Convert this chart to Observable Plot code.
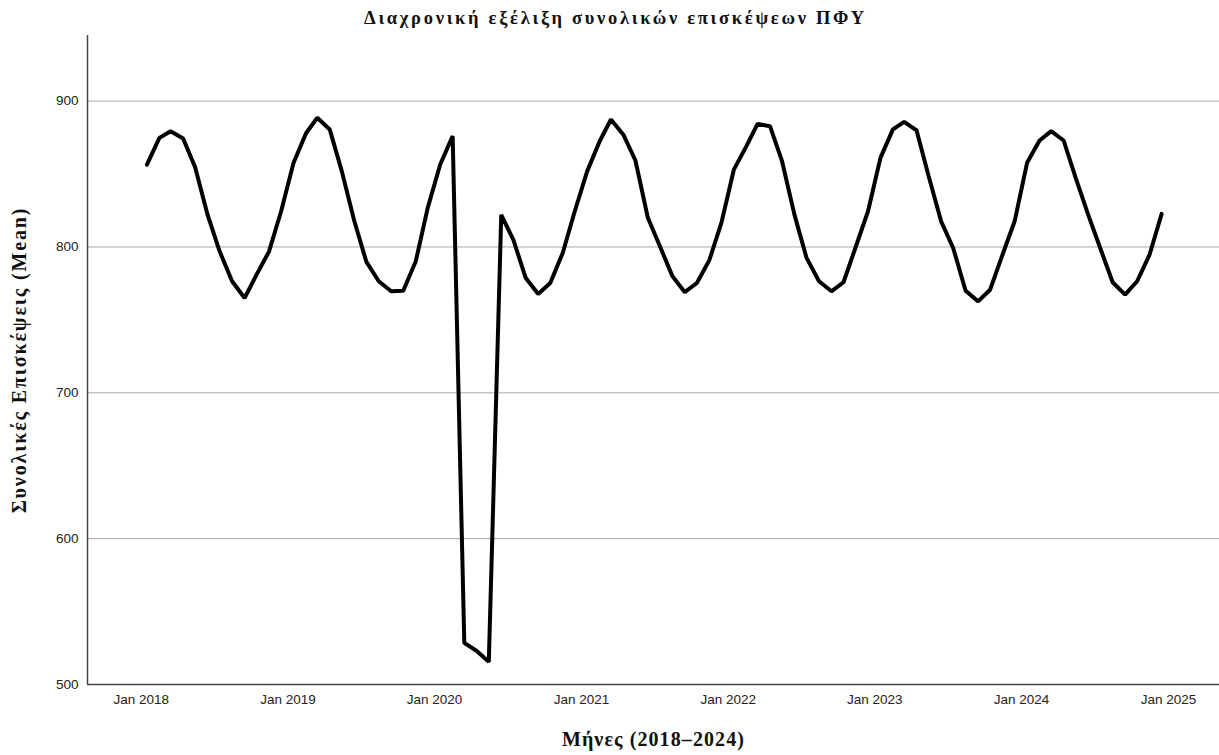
<!DOCTYPE html>
<html>
<head>
<meta charset="utf-8">
<script src="https://cdn.jsdelivr.net/npm/d3@7"></script>
<script src="https://cdn.jsdelivr.net/npm/@observablehq/plot@0.6"></script>
<style>
  html, body { margin: 0; padding: 0; background: #fff; }
  #wrap { width: 1219px; }
  #title { height: 35px; line-height: 36px; text-align: center; padding-left: 12px; box-sizing: border-box; font-family: "Liberation Serif", "DejaVu Serif", serif; font-weight: bold; font-size: 18.5px; letter-spacing: 2.7px; color: #111; white-space: nowrap; }
</style>
</head>
<body>
<div id="wrap">
  <div id="title"></div>
  <div id="chart"></div>
</div>
<script>
const titleText = "Διαχρονική εξέλιξη συνολικών επισκέψεων ΠΦΥ";
const yLabel = "Συνολικές Επισκέψεις (Mean)";
const xLabel = "Μήνες (2018–2024)";

const years = [2018, 2019, 2020, 2021, 2022, 2023, 2024];
const v2018 = [856.5, 874.8, 879.4, 874.4, 854.7, 822.0, 797.0, 776.5, 765.0, 781.0, 797.0, 824.5];
const v2019 = [857.7, 878.0, 888.6, 880.6, 852.0, 818.0, 790.0, 776.5, 769.6, 770.0, 790.0, 826.8];
const v2020 = [856.5, 876.0, 528.5, 523.0, 515.5, 822.0, 805.0, 778.7, 767.8, 775.3, 795.9, 824.5];
const v2021 = [852.0, 872.5, 887.4, 877.0, 859.3, 820.0, 800.5, 780.0, 769.0, 775.3, 791.0, 816.5];
const v2022 = [853.0, 869.0, 884.4, 882.8, 858.8, 822.0, 792.5, 776.5, 769.6, 775.8, 800.5, 824.5];
const v2023 = [861.1, 880.6, 885.8, 879.9, 848.5, 817.6, 799.3, 770.0, 762.7, 770.7, 794.8, 817.6];
const v2024 = [857.7, 873.0, 879.4, 873.0, 847.4, 822.2, 799.3, 775.8, 767.3, 776.5, 794.8, 822.7];
const yearValues = [v2018, v2019, v2020, v2021, v2022, v2023, v2024];

const yTicks = [500, 600, 700, 800, 900];
const gridValues = [600, 700, 800, 900];
const xTickYears = [2018, 2019, 2020, 2021, 2022, 2023, 2024, 2025];

const data = [];
years.forEach((yr, i) => {
  yearValues[i].forEach((v, m) => {
    data.push({date: new Date(Date.UTC(yr, m, 15)), value: v});
  });
});

const xTicks = xTickYears.map(y => new Date(Date.UTC(y, 0, 1)));
const xDomain = [new Date(Date.UTC(2017, 7, 20)), new Date(Date.UTC(2025, 4, 8))];
const yDomain = [500, 945];
const fmt = d3.utcFormat("%b %Y");

document.getElementById("title").textContent = titleText;

const chart = Plot.plot({
  width: 1219,
  height: 720,
  marginLeft: 87,
  marginRight: 0,
  marginTop: 0,
  marginBottom: 71,
  style: {fontFamily: "'Liberation Sans', Arial, sans-serif", fontSize: "13.5px", color: "#222", background: "#fff"},
  x: {type: "utc", domain: xDomain},
  y: {domain: yDomain},
  marks: [
    Plot.gridY(gridValues, {stroke: "#a8a8a8", strokeOpacity: 1, strokeWidth: 1}),
    Plot.axisX(xTicks, {tickSize: 0, tickPadding: 10, tickFormat: fmt, label: null, fontSize: 13.5}),
    Plot.axisY(yTicks, {tickSize: 0, tickPadding: 9, label: null, fontSize: 13.5}),
    Plot.ruleY([yDomain[0]], {stroke: "#444", strokeWidth: 1.5}),
    Plot.ruleX([xDomain[0]], {stroke: "#444", strokeWidth: 1.5}),
    Plot.line(data, {x: "date", y: "value", stroke: "#000", strokeWidth: 4, strokeLinejoin: "miter"}),
    Plot.text([yLabel], {text: d => d, frameAnchor: "left", textAnchor: "middle", dx: -68, rotate: -90, fontFamily: "'Liberation Serif', serif", fontWeight: "bold", fontSize: 20, fill: "#111"}),
    Plot.text([xLabel], {text: d => d, frameAnchor: "bottom", textAnchor: "middle", dy: 61, fontFamily: "'Liberation Serif', serif", fontWeight: "bold", fontSize: 20, fill: "#111"})
  ]
});
d3.select(chart).selectAll("text")
  .filter(function() { return this.textContent === yLabel; })
  .style("letter-spacing", "1.85px");
d3.select(chart).selectAll("text")
  .filter(function() { return this.textContent === xLabel; })
  .style("letter-spacing", "1.1px");
document.getElementById("chart").appendChild(chart);
</script>
</body>
</html>
